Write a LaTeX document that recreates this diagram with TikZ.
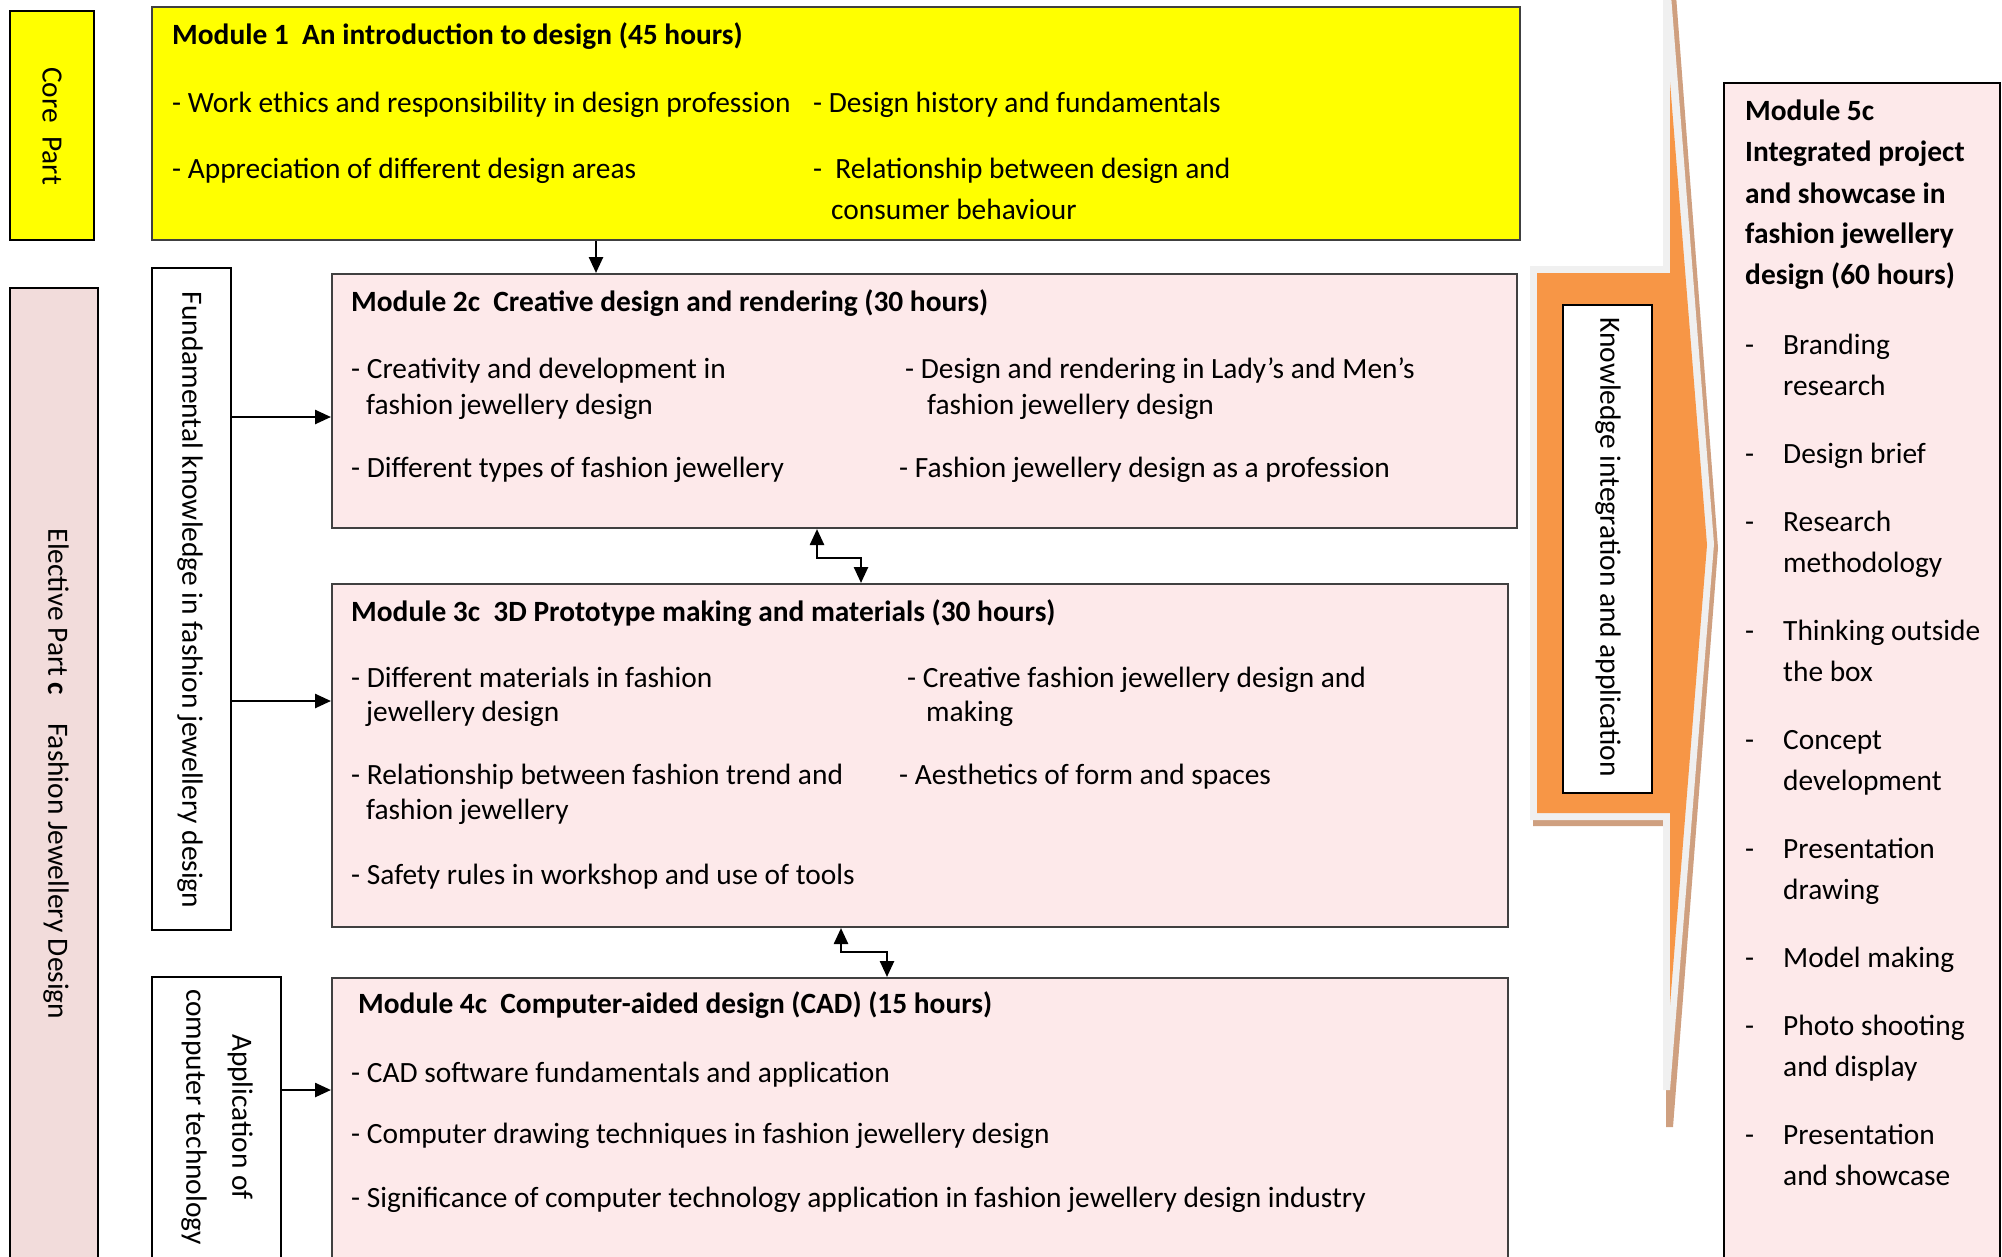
\documentclass[tikz,border=0pt]{standalone}
\usepackage{fontspec}
\setmainfont{Carlito}
\usetikzlibrary{arrows.meta}

\definecolor{coreyellow}{HTML}{FFFF00}
\definecolor{modpink}{HTML}{FDE9EA}
\definecolor{electpink}{HTML}{F2DCDB}
\definecolor{flowora}{HTML}{F79646}
\definecolor{flowgray}{HTML}{F0F0F0}
\definecolor{flowtan}{HTML}{CFA080}

\begin{document}
\begin{tikzpicture}[
        x = 1pt, y = -1pt,
        every node/.style = {inner sep = 0pt, font = \fontsize{29.4}{36}\selectfont},
        box/.style = {draw = black!75, line width = 2pt, rectangle, anchor = north west},
        item/.style = {anchor = base west},
        title/.style = {anchor = base west, font = \fontsize{29.4}{36}\selectfont\bfseries},
        side/.style = {rotate = -90, align = center},
        arr/.style = {line width = 2.5pt, -{Triangle[length = 16pt, width = 14pt]}},
        link/.style = {line width = 2.5pt,
            {Triangle[length = 16pt, width = 14pt]}-{Triangle[length = 16pt, width = 14pt]}}
    ]
            \useasboundingbox (0, 0) rectangle (2002, 1256);

            \path
                (9, 10) node (core) [box, draw = black, fill = coreyellow,
                    minimum width = 84pt, minimum height = 229pt] {}
                (9, 287) node (elect) [box, draw = black, fill = electpink,
                    minimum width = 88pt, minimum height = 1000pt] {}
                (151, 267) node (fund) [box, draw = black, fill = white,
                    minimum width = 79pt, minimum height = 662pt] {}
                (151, 976) node (appl) [box, draw = black, fill = white,
                    minimum width = 129pt, minimum height = 320pt] {}

                (151, 6) node (mod1) [box, fill = coreyellow,
                    minimum width = 1368pt, minimum height = 233pt] {}
                (331, 273) node (mod2) [box, fill = modpink,
                    minimum width = 1185pt, minimum height = 254pt] {}
                (331, 583) node (mod3) [box, fill = modpink,
                    minimum width = 1176pt, minimum height = 343pt] {}
                (331, 977) node (mod4) [box, fill = modpink,
                    minimum width = 1176pt, minimum height = 320pt] {}
                (1723, 82) node (mod5) [box, draw = black, fill = modpink,
                    minimum width = 276pt, minimum height = 1200pt] {}
            ;

            \fill[flowtan]
                (1533, 826) -- (1533, 700) -- (1665, 700) -- (1665, -5) -- (1676, -5)
                -- (1718, 548) -- (1673, 1127) -- (1666, 1127) -- (1666, 826) -- cycle;
            \fill[flowgray]
                (1530, 266) -- (1663, 266) -- (1663, -5) -- (1671, -5) -- (1714, 544)
                -- (1670, 1090) -- (1663, 1090) -- (1663, 820) -- (1530, 820) -- cycle;
            \fill[flowora]
                (1537, 273) -- (1670, 273) -- (1670, 82) -- (1707, 545)
                -- (1670, 1005) -- (1670, 813) -- (1537, 813) -- cycle;

            \path
                (1562, 304) node (know) [box, draw = black, fill = white,
                    minimum width = 89pt, minimum height = 488pt] {}

                (52, 126) node (coret) [side] {Core\ \ Part}
                (56, 774) node (electt) [side] {Elective Part \textbf{c}\hspace{28pt}Fashion Jewellery Design}
                (190, 600) node (fundt) [side] {Fundamental knowledge in fashion jewellery design}
                (217, 1117) node (applt) [side, font = \fontsize{29.4}{46}\selectfont]
                    {Application of\\computer technology}
                (1608, 547) node (knowt) [side] {Knowledge integration and application}

                (172, 44) node (m1t) [title] {Module 1\ \ An introduction to design (45 hours)}
                (172, 112) node (m1a) [item] {- Work ethics and responsibility in design profession}
                (813, 112) node (m1b) [item] {- Design history and fundamentals}
                (172, 178) node (m1c) [item] {- Appreciation of different design areas}
                (813, 178) node (m1d) [item] {-\ \ Relationship between design and}
                (831, 219) node (m1e) [item] {consumer behaviour}

                (351, 311) node (m2t) [title] {Module 2c\ \ Creative design and rendering (30 hours)}
                (351, 378) node (m2a) [item] {- Creativity and development in}
                (366, 414) node (m2b) [item] {fashion jewellery design}
                (905, 378) node (m2c) [item] {- Design and rendering in Lady’s and Men’s}
                (927, 414) node (m2d) [item] {fashion jewellery design}
                (351, 477) node (m2e) [item] {- Different types of fashion jewellery}
                (899, 477) node (m2f) [item] {- Fashion jewellery design as a profession}

                (351, 621) node (m3t) [title] {Module 3c\ \ 3D Prototype making and materials (30 hours)}
                (351, 687) node (m3a) [item] {- Different materials in fashion}
                (366, 721) node (m3b) [item] {jewellery design}
                (907, 687) node (m3c) [item] {- Creative fashion jewellery design and}
                (926, 721) node (m3d) [item] {making}
                (351, 784) node (m3e) [item] {- Relationship between fashion trend and}
                (366, 819) node (m3f) [item] {fashion jewellery}
                (899, 784) node (m3g) [item] {- Aesthetics of form and spaces}
                (351, 884) node (m3h) [item] {- Safety rules in workshop and use of tools}

                (358, 1013) node (m4t) [title] {Module 4c\ \ Computer-aided design (CAD) (15 hours)}
                (351, 1082) node (m4a) [item] {- CAD software fundamentals and application}
                (351, 1143) node (m4b) [item] {- Computer drawing techniques in fashion jewellery design}
                (351, 1207) node (m4c) [item] {- Significance of computer technology application in fashion jewellery design industry}

                (1745, 120) node (m5t1) [title] {Module 5c}
                (1745, 161) node (m5t2) [title] {Integrated project}
                (1745, 203) node (m5t3) [title] {and showcase in}
                (1745, 243) node (m5t4) [title] {fashion jewellery}
                (1745, 284) node (m5t5) [title] {design (60 hours)}

                (1745, 354) node (m5d1) [item] {-}
                (1783, 354) node (m5a) [item] {Branding}
                (1783, 395) node (m5b) [item] {research}
                (1745, 463) node (m5d2) [item] {-}
                (1783, 463) node (m5c) [item] {Design brief}
                (1745, 531) node (m5d3) [item] {-}
                (1783, 531) node (m5d) [item] {Research}
                (1783, 572) node (m5e) [item] {methodology}
                (1745, 640) node (m5d4) [item] {-}
                (1783, 640) node (m5f) [item] {Thinking outside}
                (1783, 681) node (m5g) [item] {the box}
                (1745, 749) node (m5d5) [item] {-}
                (1783, 749) node (m5h) [item] {Concept}
                (1783, 790) node (m5i) [item] {development}
                (1745, 858) node (m5d6) [item] {-}
                (1783, 858) node (m5j) [item] {Presentation}
                (1783, 899) node (m5k) [item] {drawing}
                (1745, 967) node (m5d7) [item] {-}
                (1783, 967) node (m5l) [item] {Model making}
                (1745, 1035) node (m5d8) [item] {-}
                (1783, 1035) node (m5m) [item] {Photo shooting}
                (1783, 1076) node (m5n) [item] {and display}
                (1745, 1144) node (m5d9) [item] {-}
                (1783, 1144) node (m5o) [item] {Presentation}
                (1783, 1185) node (m5p) [item] {and showcase}
            ;

            \draw[arr]
                (mod1.south -| 596,0) -- (mod2.north -| 596,0);
            \draw[arr]
                (fund.east |- 0,417) -- (mod2.west |- 0,417);
            \draw[arr]
                (fund.east |- 0,701) -- (mod3.west |- 0,701);
            \draw[arr]
                (appl.east |- 0,1090) -- (mod4.west |- 0,1090);
            \draw[link]
                (mod2.south -| 817,0) -- (817, 558) -- (861, 558) -- (mod3.north -| 861,0);
            \draw[link]
                (mod3.south -| 841,0) -- (841, 952) -- (887, 952) -- (mod4.north -| 887,0);

        \end{tikzpicture}
\end{document}
